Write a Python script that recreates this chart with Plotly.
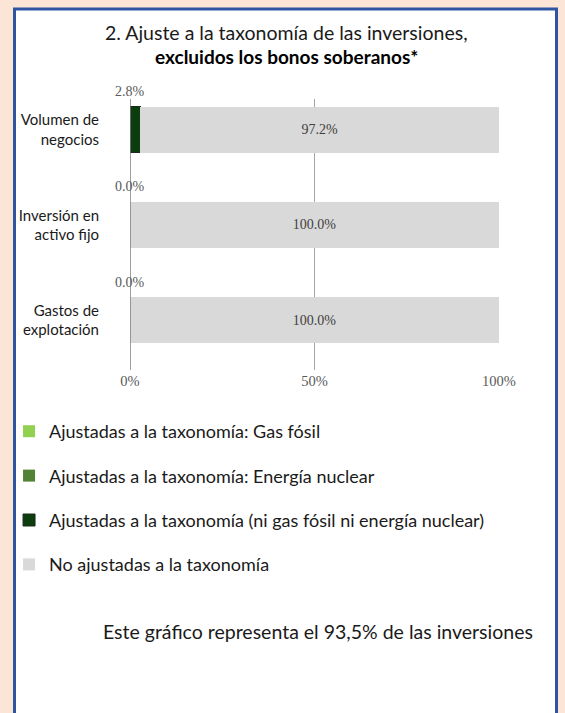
import plotly.graph_objects as go

categories = ["Volumen de<br>negocios", "Inversión en<br>activo fijo", "Gastos de<br>explotación"]
gas_fosil = [0.0, 0.0, 0.0]
energia_nuclear = [0.0, 0.0, 0.0]
ni_gas_ni_nuclear = [2.8, 0.0, 0.0]
no_ajustadas = [97.2, 100.0, 100.0]
x_ticks = [0, 50, 100]
x_tick_labels = ["0%", "50%", "100%"]

W, H = 565, 713
SANS = "Lato"
SERIF = "Liberation Serif"

fig = go.Figure()
series = [
    ("Ajustadas a la taxonomía: Gas fósil", gas_fosil, "#92d050", None, False),
    ("Ajustadas a la taxonomía: Energía nuclear", energia_nuclear, "#548235", None, False),
    ("Ajustadas a la taxonomía (ni gas fósil ni energía nuclear)", ni_gas_ni_nuclear, "#0c3d0c", "#1e2a1e", False),
    ("No ajustadas a la taxonomía", no_ajustadas, "#d9d9d9", None, True),
]
for i, (name, vals, color, lcolor, show_text) in enumerate(series):
    fig.add_trace(go.Bar(
        y=categories, x=vals, name=name, orientation="h",
        marker=dict(color=color, line=dict(width=1 if lcolor else 0, color=lcolor or color)),
        legendgroup=f"g{i}",
        text=[f"{v:.1f}%" for v in vals] if show_text else None,
        textposition="inside" if show_text else "none",
        insidetextanchor="middle",
        textfont=dict(family=SERIF, size=14, color="#404040"),
        hoverinfo="skip",
    ))

# value labels above the bars for the aligned series
for cat, v in zip(categories, ni_gas_ni_nuclear):
    fig.add_annotation(x=0, y=cat, text=f"{v:.1f}%", showarrow=False,
                       yshift=38, font=dict(family=SERIF, size=14, color="#595959"))

x0p, x1p = 130, 499
y0p, y1p = 99, 370

fig.update_layout(
    width=W, height=H,
    margin=dict(l=0, r=0, t=0, b=0, autoexpand=False),
    paper_bgcolor="#fce4d6",
    plot_bgcolor="rgba(0,0,0,0)",
    barmode="stack",
    bargap=0.516,
    showlegend=True,
    legend=dict(
        x=0.016, y=1 - 413 / H, xanchor="left", yanchor="top",
        traceorder="grouped", tracegroupgap=18,
        font=dict(family=SANS, size=18, color="#1a1a1a"),
        bgcolor="rgba(0,0,0,0)",
        itemclick=False, itemdoubleclick=False,
    ),
    xaxis=dict(
        domain=[x0p / W, x1p / W], range=[0, 100], automargin=False,
        tickvals=x_ticks, ticktext=x_tick_labels,
        showgrid=True, gridcolor="#a6a6a6", gridwidth=1,
        zeroline=False, showline=False,
        tickfont=dict(family=SERIF, size=14.5, color="#595959"),
        fixedrange=True,
    ),
    yaxis=dict(
        domain=[1 - y1p / H, 1 - y0p / H], automargin=False,
        categoryorder="array", categoryarray=categories,
        range=[2.526, -0.326],
        showgrid=False, zeroline=False, showline=False,
        ticks="", ticklabelstandoff=30,
        tickfont=dict(family=SANS, size=15, color="#1a1a1a"),
        fixedrange=True,
    ),
    font=dict(family=SANS),
)

shapes = []
# white panel with blue border
shapes.append(dict(type="rect", xref="paper", yref="paper",
                   x0=14.5 / W, x1=556.5 / W, y0=-0.01, y1=1 - 9 / H,
                   fillcolor="white", line=dict(color="#2e55a0", width=3), layer="below"))
# zero axis line
shapes.append(dict(type="line", xref="x", yref="paper", x0=0, x1=0,
                   y0=1 - y1p / H, y1=1 - y0p / H, line=dict(color="#7f7f7f", width=1.5)))
fig.update_layout(shapes=shapes)

def txt(x, y, text, size, color):
    fig.add_annotation(xref="paper", yref="paper", x=x / W, y=1 - y / H,
                       xanchor="center", yanchor="middle", text=text, showarrow=False,
                       font=dict(family=SANS, size=size, color=color))

txt(286, 32, "2. Ajuste a la taxonomía de las inversiones,", 19.5, "#1a1a1a")
txt(286, 56, "<b>excluidos los bonos soberanos*</b>", 19, "#000000")
txt(317.5, 631, "Este gráfico representa el 93,5% de las inversiones", 19.5, "#1a1a1a")

fig.write_html("out.html", config={"displayModeBar": False},
               post_script="document.body.style.margin='0';document.body.style.background='#fce4d6';")
